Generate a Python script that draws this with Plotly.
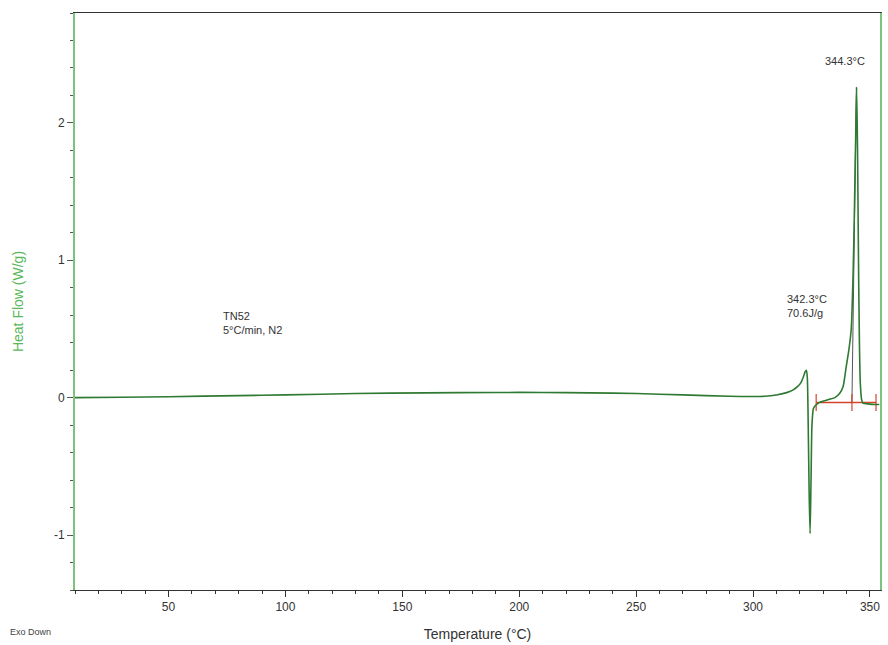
import plotly.graph_objects as go

# Heat-flow curve (DSC)
temperature = [10, 30, 50, 80, 100, 130, 160, 190, 210, 230, 250, 270, 290, 300, 305, 310,
               314, 317, 319, 320.5, 321.5, 322.3, 322.8, 323.2, 323.6, 324.0, 324.4, 324.8,
               325.2, 325.8, 326.5, 327.5, 329, 331, 333, 335, 337, 338.5, 339.8, 341, 342,
               342.8, 343.4, 343.9, 344.3, 344.7, 345.1, 345.5, 345.9, 346.4, 347, 349, 352, 354]
heat_flow = [0.0, 0.003, 0.007, 0.015, 0.02, 0.03, 0.035, 0.038, 0.038, 0.035, 0.03, 0.02,
             0.01, 0.008, 0.01, 0.02, 0.035, 0.055, 0.08, 0.11, 0.15, 0.19, 0.2, 0.15, -0.2,
             -0.7, -0.99, -0.6, -0.2, -0.08, -0.06, -0.045, -0.03, -0.02, -0.01, 0.0, 0.03,
             0.08, 0.22, 0.35, 0.5, 0.9, 1.4, 1.9, 2.26, 1.8, 1.0, 0.4, 0.1, -0.01, -0.04,
             -0.045, -0.05, -0.05]

# Integration baseline and onset tangent
baseline_t = [327.0, 352.6]
baseline_y = [-0.035, -0.035]
baseline_ticks_t = [327.0, 342.3, 352.6]
tangent_t = [342.3, 344.2]
tangent_y = [-0.035, 2.26]

x_ticks = [50, 100, 150, 200, 250, 300, 350]
y_ticks = [-1, 0, 1, 2]
y_tick_labels = ["-1", "0", "1", "2"]

green_axis = "#7cc47c"
curve_color = "#2e7a32"
red = "#d2452b"

fig = go.Figure()

fig.add_trace(go.Scatter(x=tangent_t, y=tangent_y, mode="lines",
                         line=dict(color="#555555", width=1), hoverinfo="skip"))
fig.add_trace(go.Scatter(x=baseline_t, y=baseline_y, mode="lines",
                         line=dict(color=red, width=1.5), hoverinfo="skip"))
fig.add_trace(go.Scatter(x=baseline_ticks_t, y=[baseline_y[0]] * len(baseline_ticks_t),
                         mode="markers",
                         marker=dict(symbol="line-ns", size=12, line=dict(color=red, width=1.2)),
                         hoverinfo="skip"))
fig.add_trace(go.Scatter(x=temperature, y=heat_flow, mode="lines",
                         line=dict(color=curve_color, width=1.6, shape="spline", smoothing=0.6)))

font_main = "Liberation Sans, Arial, sans-serif"

fig.update_layout(
    width=888, height=645,
    margin=dict(l=75, r=6, t=13, b=55),
    paper_bgcolor="white", plot_bgcolor="white",
    showlegend=False,
    font=dict(family=font_main, size=12, color="#333333"),
    xaxis=dict(
        range=[10, 354.3], tickvals=x_ticks, ticks="outside", ticklen=6,
        tickcolor="#333333", linecolor="#333333", linewidth=1, mirror=True,
        showgrid=False, zeroline=False,
        minor=dict(dtick=10, tick0=0, ticks="outside", ticklen=3, tickcolor="#333333"),
        tickfont=dict(size=12, color="#333333"),
        title=dict(text="Temperature (°C)", font=dict(size=14, color="#333333"), standoff=15),
    ),
    yaxis=dict(
        range=[-1.40, 2.80], tickvals=y_ticks, ticktext=y_tick_labels, ticks="outside",
        ticklen=6, tickcolor="#555555", linecolor=green_axis, linewidth=2, mirror=True,
        showgrid=False, zeroline=False,
        minor=dict(dtick=0.2, tick0=0, ticks="outside", ticklen=3, tickcolor="#555555"),
        tickfont=dict(size=12, color="#333333"),
        title=dict(text="Heat Flow (W/g)", font=dict(size=14, color="#5cb85c"), standoff=27),
    ),
    annotations=[
        dict(x=72.5, y=0.547, xref="x", yref="y", text="TN52<br>5°C/min, N2", showarrow=False,
             xanchor="left", yanchor="middle", align="left", font=dict(size=11, color="#333333")),
        dict(x=313.7, y=0.667, xref="x", yref="y", text="342.3°C<br>70.6J/g", showarrow=False,
             xanchor="left", yanchor="middle", align="left", font=dict(size=11, color="#333333")),
        dict(x=339.3, y=2.45, xref="x", yref="y", text="344.3°C", showarrow=False,
             xanchor="center", yanchor="middle", font=dict(size=11, color="#333333")),
        dict(x=-0.083, y=-0.072, xref="paper", yref="paper", text="Exo Down",
             showarrow=False, xanchor="left", yanchor="middle",
             font=dict(size=9, color="#444444")),
    ],
)

fig.write_html("out.html")
